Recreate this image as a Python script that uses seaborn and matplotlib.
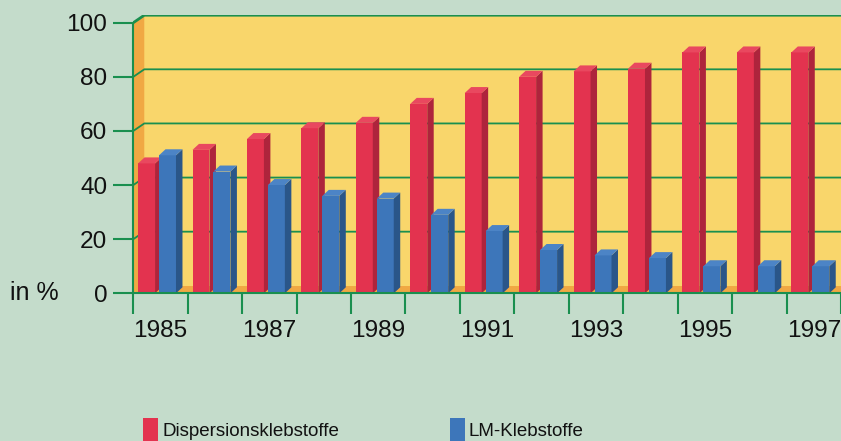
import numpy as np
import pandas as pd
import matplotlib
matplotlib.use("Agg")
import matplotlib.pyplot as plt
from matplotlib import font_manager
from matplotlib.patches import Polygon, Rectangle
import seaborn as sns

# ---- data -------------------------------------------------------------
years = [str(y) for y in range(1985, 1998)]
dispersion = [48, 53, 57, 61, 63, 70, 74, 80, 82, 83, 89, 89, 89]
solvent = [51, 45, 40, 36, 35, 29, 23, 16, 14, 13, 10, 10, 10]
series_names = ["Dispersionsklebstoffe", "LM-Klebstoffe"]
y_ticks = [0, 20, 40, 60, 80, 100]
year_labels = years[::2]
unit_label = "in %"

# ---- colours ----------------------------------------------------------
BG = "#C4DCCB"
WALL = "#F9D66B"
SIDEWALL = "#F0A843"
GRID = "#1A8F4F"
TEXT = "#111111"
front_col = {"Dispersionsklebstoffe": "#E3334F", "LM-Klebstoffe": "#3D76BA"}
side_col = {"Dispersionsklebstoffe": "#AE243C", "LM-Klebstoffe": "#2A5689"}
top_col = {"Dispersionsklebstoffe": "#E9485F", "LM-Klebstoffe": "#4C84C6"}

plt.rcParams["font.family"] = ["Liberation Sans", "DejaVu Sans"]

df = pd.DataFrame({
    "year": years * 2,
    "value": dispersion + solvent,
    "series": [series_names[0]] * len(years) + [series_names[1]] * len(years),
})

# ---- figure geometry (pixels) ----------------------------------------
DPI = 100
W, H = 841, 441
px_left, px_base, px_top = 133.3, 293.3, 15.0
px_per_y = 2.706
px_per_x = 54.6

fig = plt.figure(figsize=(W / DPI, H / DPI), dpi=DPI, facecolor=BG)
ax = fig.add_axes([px_left / W, (H - px_base) / H,
                   (W - px_left) / W, (px_base - px_top) / H])
ax.set_facecolor("none")

x_right = -0.5 + (W - px_left) / px_per_x
y_top = (px_base - px_top) / px_per_y

# depth offsets for the pseudo-3D look
WX, WY = 11 / px_per_x, 7.5 / px_per_y     # walls
BX, BY = 6.5 / px_per_x, 6.0 / px_per_y    # bars
SHIFT = 3.5 / px_per_x

# ---- walls and floor --------------------------------------------------
ax.add_patch(Rectangle((-0.5 + WX, WY), x_right + 1, 100, facecolor=WALL,
                       edgecolor="none", zorder=0))
ax.add_patch(Polygon([(-0.5, 0), (x_right + 1, 0), (x_right + 1, WY), (-0.5 + WX, WY)],
                     closed=True, facecolor=SIDEWALL, edgecolor="none", zorder=0.2))
ax.add_patch(Polygon([(-0.5, 0), (-0.5 + WX, WY), (-0.5 + WX, 100 + WY), (-0.5, 100)],
                     closed=True, facecolor=SIDEWALL, edgecolor="none", zorder=0.2))
for v in y_ticks[1:]:
    lw = 2.0 if v == 100 else 1.3
    ax.plot([-0.5, -0.5 + WX, x_right + 1], [v, v + WY, v + WY],
            color=GRID, lw=lw, zorder=0.5, solid_capstyle="butt")

# ---- bars -------------------------------------------------------------
sns.barplot(data=df, x="year", y="value", hue="series", hue_order=series_names,
            order=years, palette=front_col, width=0.77, gap=0.19, dodge=True,
            saturation=1, errorbar=None, ax=ax, linewidth=0)

bars = []
for hi, container in enumerate(ax.containers):
    for bar in container:
        bars.append((bar.get_x(), hi, bar))
bars.sort(key=lambda t: t[0])
z = 3
for _, hi, bar in bars:
    name = series_names[hi]
    bar.set_x(bar.get_x() - SHIFT)
    x0 = bar.get_x()
    x1 = x0 + bar.get_width()
    h = bar.get_height()
    bar.set_zorder(z)
    bar.set_edgecolor("none")
    # side face and top face of each column
    ax.add_patch(Polygon([(x1, 0), (x1 + BX, BY), (x1 + BX, h + BY), (x1, h)],
                         closed=True, facecolor=side_col[name], edgecolor="none", zorder=z))
    ax.add_patch(Polygon([(x0, h), (x1, h), (x1 + BX, h + BY), (x0 + BX, h + BY)],
                         closed=True, facecolor=top_col[name], edgecolor="none", zorder=z))
    z += 1

# ---- axes -------------------------------------------------------------
ax.set_xlim(-0.5, x_right)
ax.set_ylim(0, y_top)
for s in ["top", "right"]:
    ax.spines[s].set_visible(False)
for s in ["left", "bottom"]:
    ax.spines[s].set_color(GRID)
    ax.spines[s].set_linewidth(1.5)
    ax.spines[s].set_zorder(50)
ax.spines["left"].set_bounds(0, 100)

ax.set_yticks(y_ticks)
ax.set_yticklabels([str(v) for v in y_ticks])
ax.tick_params(axis="y", length=14.4, width=1.5, color=GRID, pad=4.3,
               labelsize=17.6, labelcolor=TEXT)

ax.set_xticks(np.arange(-0.5, len(years) + 0.5, 1.0))
ax.set_xticklabels([])
ax.tick_params(axis="x", which="major", length=15.1, width=1.5, color=GRID)
ax.set_xticks(np.arange(0, len(years), 2), minor=True)
ax.set_xticklabels(year_labels, minor=True)
ax.tick_params(axis="x", which="minor", length=0, pad=19, labelsize=17.6,
               labelcolor=TEXT)
ax.set_xlabel("")
ax.set_ylabel("")
ax.grid(False)

fig.text(10 / W, 1 - 293 / H, unit_label, ha="left", va="center",
         fontsize=18, color=TEXT)

# ---- legend: one entry per anchor ------------------------------------
handles, labels = ax.get_legend_handles_labels()
if ax.get_legend() is not None:
    ax.get_legend().remove()
fs_leg = 18.8
anchors = [143, 450]
for handle, label, x_px in zip(handles, labels, anchors):
    leg = fig.legend([handle], [label], loc="upper left",
                     bbox_to_anchor=(x_px / W, 1 - 418 / H), frameon=False,
                     borderpad=0, borderaxespad=0,
                     handlelength=15 / fs_leg, handleheight=28 / fs_leg,
                     handletextpad=4 / fs_leg,
                     prop=font_manager.FontProperties(size=fs_leg * 0.72))
    for t in leg.get_texts():
        t.set_color(TEXT)

fig.savefig("out.png", dpi=DPI, facecolor=BG)
